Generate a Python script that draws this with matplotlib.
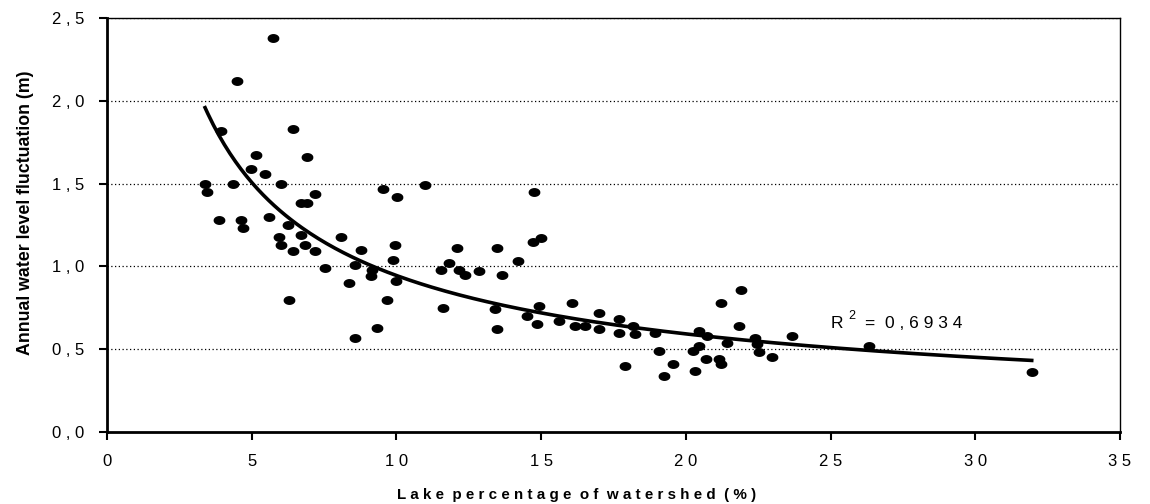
import matplotlib
matplotlib.use("Agg")
import matplotlib.pyplot as plt
import numpy as np
from matplotlib.path import Path
from matplotlib.ticker import FuncFormatter

plt.rcParams['font.family'] = ['Liberation Sans', 'DejaVu Sans']

# lake percentage of watershed (%)
lake_pct = [5.73, 4.49, 3.94, 6.43, 5.14, 6.91, 4.98, 5.45, 3.39, 4.35, 6.01, 3.44,
            7.19, 9.53, 10.01, 6.70, 6.92, 3.87, 4.64, 5.60, 4.70, 6.27,
            5.94, 6.01, 6.70, 6.84, 6.42, 7.19, 8.07, 8.78, 9.96, 7.53, 8.57, 9.15,
            9.13, 9.88, 8.36, 6.29, 9.68, 9.32, 8.57, 10.0,
            10.99, 14.77, 12.09, 13.46, 14.72, 15.0, 11.82, 14.2, 11.54, 12.16, 12.37,
            12.85, 13.65, 11.61, 13.41, 13.47, 14.93, 14.51, 14.86, 15.62, 16.07, 16.18,
            16.53, 17.0, 17.0, 17.69, 17.69, 18.19, 18.24, 18.94, 19.07, 17.90, 19.56, 19.25,
            20.32, 20.25, 20.47, 20.47, 20.68, 20.74, 21.16, 21.22, 21.22, 21.92, 21.84,
            21.42, 22.40, 22.47, 22.54, 22.99, 23.68, 26.33, 31.95]
# annual water level fluctuation (m)
fluct = [2.38, 2.12, 1.82, 1.83, 1.67, 1.66, 1.59, 1.56, 1.50, 1.50, 1.50, 1.45,
         1.44, 1.47, 1.42, 1.38, 1.38, 1.28, 1.28, 1.30, 1.23, 1.25,
         1.18, 1.13, 1.19, 1.13, 1.09, 1.09, 1.18, 1.10, 1.13, 0.99, 1.01, 0.98,
         0.94, 1.04, 0.90, 0.80, 0.80, 0.63, 0.57, 0.91,
         1.49, 1.45, 1.11, 1.11, 1.15, 1.17, 1.02, 1.03, 0.98, 0.98, 0.95,
         0.97, 0.95, 0.75, 0.74, 0.62, 0.76, 0.70, 0.65, 0.67, 0.78, 0.64,
         0.64, 0.72, 0.62, 0.68, 0.60, 0.64, 0.59, 0.60, 0.49, 0.40, 0.41, 0.34,
         0.37, 0.49, 0.61, 0.52, 0.44, 0.58, 0.44, 0.41, 0.78, 0.86, 0.64,
         0.54, 0.57, 0.53, 0.48, 0.45, 0.58, 0.52, 0.36]
r2_text = "0,6934"

x = np.array(lake_pct)
y = np.array(fluct)

# power trendline (Excel style)
b, loga = np.polyfit(np.log(x), np.log(y), 1)
xf = np.linspace(x.min(), x.max(), 300)
yf = np.exp(loga) * xf ** b

fig = plt.figure(figsize=(11.5, 5.04), dpi=100)
ax = fig.add_axes([0.0930, 0.1429, 0.8809, 0.8214])

for g in [0.5, 1.0, 1.5, 2.0, 2.5]:
    ax.axhline(g, color='black', lw=0.9, ls=(0, (1, 2)), zorder=1)

t = np.linspace(0, 2 * np.pi, 40)
ell = Path(np.column_stack([np.cos(t), 0.72 * np.sin(t)]))
ax.plot(x, y, ls='none', marker=ell, ms=7.5, color='black', zorder=3)
ax.plot(xf, yf, color='black', lw=2.6, zorder=4)

ax.text(25.0, 0.63, "R", fontsize=12.5)
ax.text(25.6, 0.68, "2", fontsize=9)
ax.text(26.2, 0.63, "=  0 , 6 9 3 4", fontsize=12.5)

ax.set_xlim(0, 35)
ax.set_ylim(0, 2.5)
ax.set_xticks(range(0, 36, 5))
ax.set_yticks([0, 0.5, 1.0, 1.5, 2.0, 2.5])
ax.xaxis.set_major_formatter(FuncFormatter(lambda v, p: " ".join(str(int(v)))))
ax.yaxis.set_major_formatter(FuncFormatter(lambda v, p: " ".join(f"{v:.1f}".replace('.', ','))))
ax.tick_params(axis='both', direction='out', length=6, width=1.5, labelsize=12, pad=10)

for s in ['left', 'bottom']:
    ax.spines[s].set_linewidth(2.0)
for s in ['top', 'right']:
    ax.spines[s].set_linewidth(1.0)

fig.text(0.0226, 0.577, "Annual water level fluctuation (m)", rotation=90,
         ha='center', va='center', fontsize=12.8, fontweight='bold')
fig.text(0.501, 0.018, "  ".join(" ".join(w) for w in "Lake percentage of watershed (%)".split()),
         ha='center', va='center', fontsize=10.9, fontweight='bold')

fig.savefig("out.png", dpi=100)
